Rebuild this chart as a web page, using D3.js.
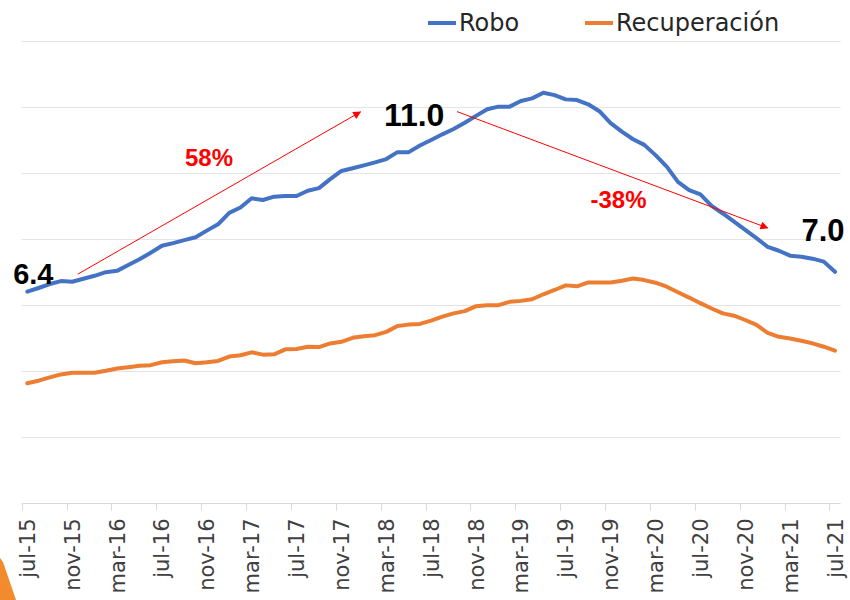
<!DOCTYPE html>
<html>
<head>
<meta charset="utf-8">
<script src="https://cdn.jsdelivr.net/npm/d3@7/dist/d3.min.js"></script>
<style>
  html, body { margin: 0; padding: 0; background: #fff; }
  svg { display: block; }
</style>
</head>
<body>
<svg id="chart" width="850" height="600"></svg>
<script>
// Monthly series, jul-15 … jul-21
const tickLabels = ["jul-15","nov-15","mar-16","jul-16","nov-16","mar-17","jul-17","nov-17","mar-18",
  "jul-18","nov-18","mar-19","jul-19","nov-19","mar-20","jul-20","nov-20","mar-21","jul-21"];

const robo = [6.4,6.51,6.63,6.72,6.70,6.79,6.88,6.99,7.03,7.21,7.38,7.58,7.79,7.87,7.96,8.05,8.25,8.44,
  8.79,8.95,9.23,9.18,9.28,9.30,9.30,9.46,9.54,9.81,10.06,10.14,10.23,10.32,10.42,10.63,10.63,10.83,
  11.0,11.17,11.33,11.52,11.73,11.93,12.01,12.01,12.18,12.26,12.43,12.36,12.23,12.21,12.08,11.87,11.51,
  11.25,11.02,10.85,10.54,10.19,9.73,9.48,9.35,9.0,8.77,8.52,8.27,8.02,7.76,7.64,7.49,7.46,7.40,7.31,7.0];

const recuperacion = [3.62,3.70,3.80,3.89,3.94,3.94,3.94,4.00,4.07,4.11,4.15,4.17,4.26,4.29,4.31,4.23,4.26,
  4.30,4.43,4.47,4.56,4.49,4.50,4.65,4.66,4.73,4.72,4.83,4.88,5.00,5.05,5.08,5.18,5.36,5.40,5.42,5.52,
  5.64,5.74,5.81,5.96,5.99,5.99,6.09,6.12,6.17,6.32,6.45,6.59,6.56,6.68,6.68,6.68,6.73,6.80,6.75,6.67,
  6.55,6.38,6.22,6.05,5.89,5.74,5.67,5.54,5.39,5.15,5.03,4.98,4.91,4.83,4.73,4.61];

const seriesNames = ["Robo", "Recuperación"];
const seriesColors = ["#4472C4", "#ED7D31"];

// Points whose value is printed, and the percentage arrows (index, value)
const labelledIdx = [0, 36, 72];
const arrows = [
  { from: [4.5, 6.93], to: [29.7, 11.85], text: "58%", at: [16.2, 10.2] },
  { from: [38.3, 11.86], to: [66.0, 8.33], text: "-38%", at: [52.7, 8.95] }
];

const svg = d3.select("#chart");
const months = d3.range(robo.length);

const x = d3.scaleBand().domain(months).range([21.7, 840.6]).paddingInner(0).paddingOuter(0);
const cx = i => x(i) + x.bandwidth() / 2;
const y = d3.scaleLinear().domain([0, 14]).range([502.7, 41]);

// Horizontal gridlines
svg.append("g")
  .selectAll("line")
  .data(d3.range(2, 15, 2))
  .join("line")
  .attr("x1", 21.7).attr("x2", 840.6)
  .attr("y1", d => Math.round(y(d)) + 0.5).attr("y2", d => Math.round(y(d)) + 0.5)
  .attr("stroke", "#e4e4e4").attr("stroke-width", 1);

// Category axis: ticks at band edges every 4 months, labels at band centres
const axisY = Math.round(y(0)) + 0.5;
const gx = svg.append("g");
gx.append("line")
  .attr("x1", 21.7).attr("x2", 840.6).attr("y1", axisY).attr("y2", axisY)
  .attr("stroke", "#d9d9d9").attr("stroke-width", 1);
const tickIdx = d3.range(0, robo.length, 4);
gx.selectAll("line.tick")
  .data(tickIdx)
  .join("line")
  .attr("class", "tick")
  .attr("x1", d => Math.round(x(d)) + 0.5).attr("x2", d => Math.round(x(d)) + 0.5)
  .attr("y1", axisY).attr("y2", axisY + 7)
  .attr("stroke", "#d9d9d9");
gx.selectAll("text")
  .data(tickIdx)
  .join("text")
  .attr("transform", d => `translate(${cx(d)},${axisY + 15}) rotate(-90)`)
  .attr("text-anchor", "end")
  .attr("dy", "0.36em")
  .attr("font-family", "DejaVu Sans, sans-serif")
  .attr("font-size", 21)
  .attr("fill", "#404040")
  .text((d, k) => tickLabels[k]);

// Lines
const line = d3.line().x((d, i) => cx(i)).y(d => y(d));
[recuperacion, robo].forEach((vals, k) => {
  svg.append("path")
    .datum(vals)
    .attr("fill", "none")
    .attr("stroke", seriesColors[1 - k])
    .attr("stroke-width", 4)
    .attr("stroke-linejoin", "round")
    .attr("stroke-linecap", "round")
    .attr("d", line);
});

// Arrows
svg.append("defs").append("marker")
  .attr("id", "head")
  .attr("viewBox", "0 0 10 10")
  .attr("refX", 9).attr("refY", 5)
  .attr("markerWidth", 10).attr("markerHeight", 8)
  .attr("markerUnits", "userSpaceOnUse")
  .attr("orient", "auto")
  .append("path").attr("d", "M0,0 L10,5 L0,10 Z").attr("fill", "#ff0000");

svg.append("g").selectAll("line")
  .data(arrows)
  .join("line")
  .attr("x1", d => cx(0) + d.from[0] * x.step()).attr("y1", d => y(d.from[1]))
  .attr("x2", d => cx(0) + d.to[0] * x.step()).attr("y2", d => y(d.to[1]))
  .attr("stroke", "#ff0000").attr("stroke-width", 1)
  .attr("marker-end", "url(#head)");

svg.append("g").selectAll("text")
  .data(arrows)
  .join("text")
  .attr("x", d => cx(0) + d.at[0] * x.step())
  .attr("y", d => y(d.at[1]))
  .attr("text-anchor", "middle")
  .attr("font-family", "Liberation Sans, Arial, sans-serif")
  .attr("font-weight", "bold")
  .attr("font-size", 24)
  .attr("fill", "#ff0000")
  .text(d => d.text);

// Value labels for start, turning point and end
const valueOffsets = [[6, -8, 29], [-17, -14, 32], [-12, -31, 31]];
svg.append("g").selectAll("text")
  .data(labelledIdx)
  .join("text")
  .attr("x", (d, k) => cx(d) + valueOffsets[k][0])
  .attr("y", (d, k) => y(robo[d]) + valueOffsets[k][1])
  .attr("text-anchor", "middle")
  .attr("font-family", "Liberation Sans, Arial, sans-serif")
  .attr("font-weight", "bold")
  .attr("font-size", (d, k) => valueOffsets[k][2])
  .attr("fill", "#000")
  .text(d => d3.format(".1f")(robo[d]));

// Legend
const legendX = [428, 585];
const lg = svg.append("g");
seriesNames.forEach((name, k) => {
  lg.append("line")
    .attr("x1", legendX[k]).attr("x2", legendX[k] + 28)
    .attr("y1", 23).attr("y2", 23)
    .attr("stroke", seriesColors[k]).attr("stroke-width", 4);
  lg.append("text")
    .attr("x", legendX[k] + 31).attr("y", 31)
    .attr("font-family", "DejaVu Sans, sans-serif")
    .attr("font-size", 24)
    .attr("fill", "#262626")
    .text(name);
});

// Orange slide corner
svg.append("path")
  .attr("d", "M0,558 L3,562 L16,600 L0,600 Z")
  .attr("fill", "#F28A2E");
</script>
</body>
</html>
